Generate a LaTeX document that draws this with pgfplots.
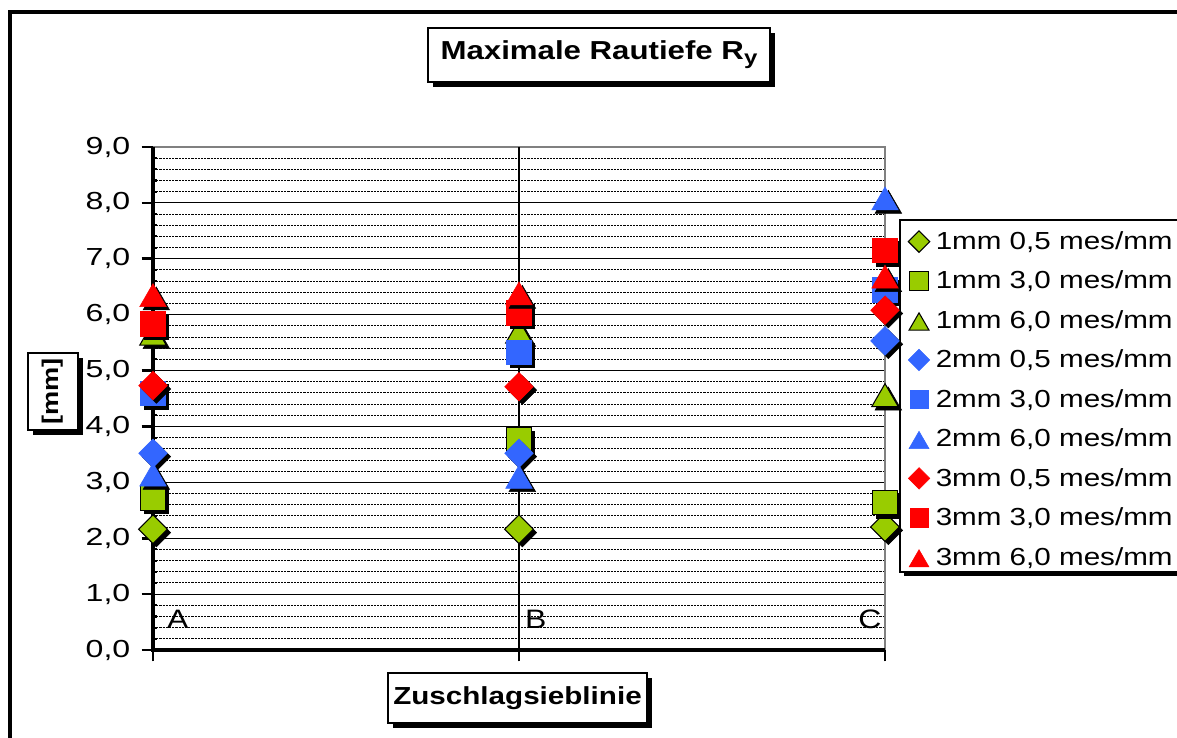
\documentclass[border=0pt]{standalone}
\usepackage{fontspec}
\setmainfont{Liberation Sans}[FakeStretch=1.2]
\newfontfamily\tickfont{Liberation Sans}[FakeStretch=1.3]
\usepackage{pgfplots}
\pgfplotsset{compat=1.18}
\definecolor{xlgreen}{RGB}{153,204,0}
\definecolor{xlblue}{RGB}{51,102,255}
\definecolor{xlred}{RGB}{255,0,0}
\pgfplotsset{
  dia/.style={only marks, mark=square*, mark size=7.6pt, mark options={rotate=45}},
  sq/.style={only marks, mark=square*, mark size=9.2pt},
  tri/.style={only marks, mark=triangle*, mark size=11.5pt, mark options={yshift=-2.9pt}},
  diash/.style={only marks, forget plot, black, mark=square*, mark size=7.6pt, mark options={xshift=2.5pt, yshift=-2.5pt, rotate=45}},
  sqsh/.style={only marks, forget plot, black, mark=square*, mark size=9.2pt, mark options={xshift=2.5pt, yshift=-2.5pt}},
  trish/.style={only marks, forget plot, black, mark=triangle*, mark size=11.5pt, mark options={xshift=2.5pt, yshift=-5.4pt}},
  gr/.style={draw=black, fill=xlgreen, line width=0.8pt},
  bl/.style={draw=xlblue, fill=xlblue},
  rd/.style={draw=xlred, fill=xlred},
}
\pgfplotstableread{
x gdia gsq gtri bdia bsq btri rdia rsq rtri
0 2.16 2.72 5.66 3.52 4.59 3.14 4.73 5.84 6.35
1 2.16 3.76 5.70 3.52 5.33 3.10 4.71 6.03 6.38
2 2.20 2.64 4.56 5.53 6.45 8.08 6.08 7.15 6.68
}\datatable
\begin{document}
\begin{tikzpicture}
\begin{scope}[x=0.75pt,y=-0.75pt]
\draw[line width=3pt] (10,12) rectangle (1230,770);
% title
\fill[black] (433,33) rectangle (775,87);
\draw[fill=white, line width=1pt] (428,28) rectangle (770,82);
\node[font=\fontsize{19.5}{22}\selectfont\bfseries] at (599,55) {Maximale Rautiefe R\raisebox{-0.35ex}{\fontsize{15}{16}\selectfont y}};
% x label
\fill[black] (393,678) rectangle (652,728);
\draw[fill=white, line width=1pt] (388,673) rectangle (647,723);
\node[font=\fontsize{18.5}{22}\selectfont\bfseries] at (517.5,698) {Zuschlagsieblinie};
% y label
\fill[black] (33,358) rectangle (83,435);
\draw[fill=white, line width=1pt] (28,353) rectangle (78,430);
\node[rotate=90, font=\fontsize{17}{20}\selectfont\bfseries] at (53,391.5) {[mm]};
\end{scope}
\begin{axis}[
  at={(114.75pt,-487.5pt)}, anchor=south west,
  scale only axis, width=549pt, height=377.25pt,
  xmin=0, xmax=2, ymin=0, ymax=9,
  clip=false,
  axis line style={draw=none},
  tick pos=left,
  xtick={0,1,2}, xticklabels={},
  ytick={0,1,...,9}, minor y tick num=4,
  tick align=outside,
  major tick length=8.5pt, minor tick length=3pt,
  major tick style={black, line width=2pt},
  minor tick style={black, line width=1.6pt, xshift=3pt},
  ymajorgrids, yminorgrids,
  major grid style={black, line width=0.8pt},
  minor grid style={black, line width=0.7pt, dash pattern=on 1.6pt off 0.8pt},
  /pgf/number format/assume math mode=true,
  yticklabel style={font=\tickfont\fontsize{18.5}{20}\selectfont, xshift=-5pt, /pgf/number format/.cd, fixed, fixed zerofill, precision=1, use comma},
  legend style={at={(1.0205,0.8549)}, anchor=north west, draw=none, fill=none,
    font=\fontsize{18.5}{20}\selectfont, row sep=10.7pt, column sep=2.5pt, inner xsep=6pt, inner ysep=6.5pt},
  legend cell align=left,
  legend image post style={every mark/.append style={scale=0.75}},
]
\draw[gray, line width=1pt] (rel axis cs:0,1) -- (rel axis cs:1,1) -- (rel axis cs:1,0);
\draw[black, line width=0.8pt] (axis cs:1,0) -- (axis cs:1,9);
\draw[black, line width=3pt] (rel axis cs:0,1) -- (rel axis cs:0,0) -- (rel axis cs:1,0);
\node[font=\fontsize{20}{22}\selectfont] at (axis cs:0.068,0.555) {A};
\node[font=\fontsize{20}{22}\selectfont] at (axis cs:1.046,0.555) {B};
\node[font=\fontsize{20}{22}\selectfont] at (axis cs:1.959,0.555) {C};

\addplot[diash] table[x=x,y=gdia] {\datatable};
\addplot[dia, gr] table[x=x,y=gdia] {\datatable};
\addlegendentry{1mm 0,5 mes/mm}
\addplot[sqsh] table[x=x,y=gsq] {\datatable};
\addplot[sq, gr] table[x=x,y=gsq] {\datatable};
\addlegendentry{1mm 3,0 mes/mm}
\addplot[trish] table[x=x,y=gtri] {\datatable};
\addplot[tri, gr] table[x=x,y=gtri] {\datatable};
\addlegendentry{1mm 6,0 mes/mm}
\addplot[diash] table[x=x,y=bdia] {\datatable};
\addplot[dia, bl] table[x=x,y=bdia] {\datatable};
\addlegendentry{2mm 0,5 mes/mm}
\addplot[sqsh] table[x=x,y=bsq] {\datatable};
\addplot[sq, bl] table[x=x,y=bsq] {\datatable};
\addlegendentry{2mm 3,0 mes/mm}
\addplot[trish] table[x=x,y=btri] {\datatable};
\addplot[tri, bl] table[x=x,y=btri] {\datatable};
\addlegendentry{2mm 6,0 mes/mm}
\addplot[diash] table[x=x,y=rdia] {\datatable};
\addplot[dia, rd] table[x=x,y=rdia] {\datatable};
\addlegendentry{3mm 0,5 mes/mm}
\addplot[sqsh] table[x=x,y=rsq] {\datatable};
\addplot[sq, rd] table[x=x,y=rsq] {\datatable};
\addlegendentry{3mm 3,0 mes/mm}
\addplot[trish] table[x=x,y=rtri] {\datatable};
\addplot[tri, rd] table[x=x,y=rtri] {\datatable};
\addlegendentry{3mm 6,0 mes/mm}

\fill[black] ([xshift=3pt,yshift=-3pt]rel axis cs:1.0205,0.8549) rectangle ([xshift=3pt,yshift=-3pt]rel axis cs:1.6,0.1551);
\draw[fill=white, line width=1pt] (rel axis cs:1.0205,0.8549) rectangle (rel axis cs:1.6,0.1551);
\end{axis}
\pgfresetboundingbox
\path[use as bounding box] (0pt,0pt) rectangle (882.75pt,-553.5pt);
\end{tikzpicture}
\end{document}
